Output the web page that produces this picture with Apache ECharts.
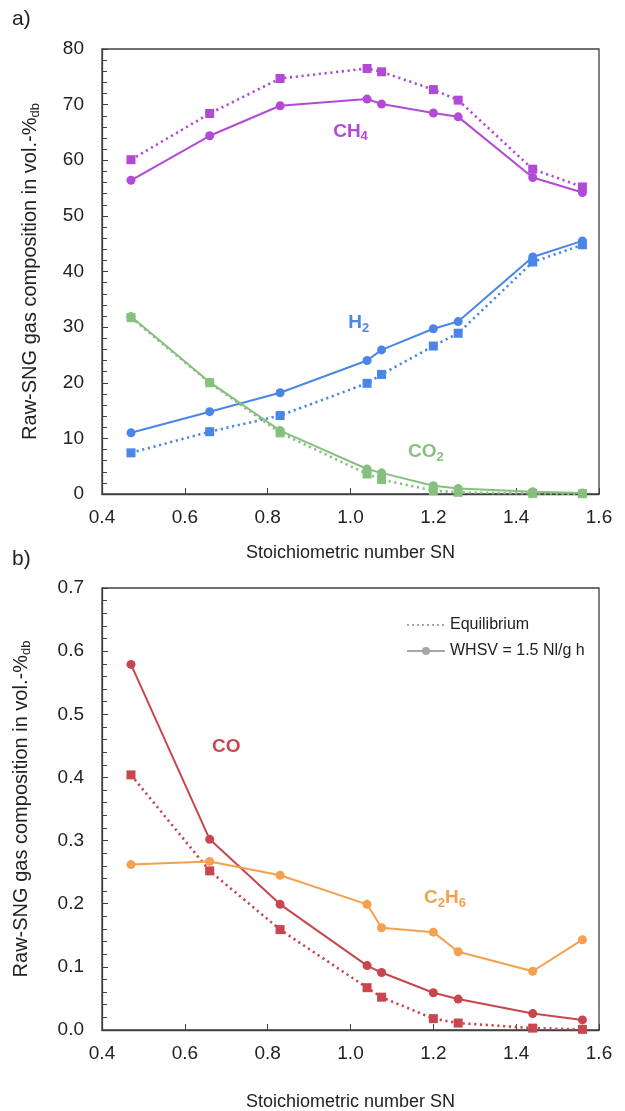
<!DOCTYPE html>
<html>
<head>
<meta charset="utf-8">
<script src="https://cdn.jsdelivr.net/npm/echarts@6/dist/echarts.min.js"></script>
<style>
html,body{margin:0;padding:0;background:#fff;}
#c{width:625px;height:1111px;}
</style>
</head>
<body>
<div id="c"></div>
<script>
// ---- data ----
const sn = [0.47, 0.66, 0.83, 1.04, 1.075, 1.2, 1.26, 1.44, 1.56];
const ch4Exp = [56.4, 64.4, 69.8, 71.0, 70.1, 68.5, 67.8, 56.9, 54.2];
const ch4Eq  = [60.1, 68.4, 74.7, 76.5, 75.9, 72.7, 70.8, 58.4, 55.2];
const h2Exp  = [11.0, 14.8, 18.2, 24.0, 25.9, 29.7, 31.0, 42.6, 45.5];
const h2Eq   = [7.4, 11.2, 14.1, 19.9, 21.5, 26.6, 28.9, 41.7, 44.8];
const co2Exp = [31.9, 20.1, 11.4, 4.5, 3.8, 1.5, 1.0, 0.4, 0.2];
const co2Eq  = [31.7, 20.0, 11.0, 3.6, 2.6, 0.6, 0.3, 0.1, 0.05];
const coExp  = [0.579, 0.302, 0.199, 0.102, 0.091, 0.059, 0.049, 0.026, 0.016];
const coEq   = [0.404, 0.252, 0.159, 0.067, 0.052, 0.018, 0.011, 0.003, 0.001];
const c2h6Exp = [0.262, 0.267, 0.245, 0.199, 0.162, 0.155, 0.124, 0.093, 0.143];
const xTitle = 'Stoichiometric number SN';
const legendNames = ['Equilibrium', 'WHSV = 1.5 Nl/g h'];
// annotation anchors in data coordinates: [gridIndex, x, y, main, sub, colour, main2, sub2]
const annotations = [
  [0, 1.0, 65.1, 'CH', '4', '#b34ad6'],
  [0, 1.02, 30.7, 'H', '2', '#4a86e8'],
  [0, 1.182, 7.55, 'CO', '2', '#86c07e'],
  [1, 0.70, 0.448, 'CO', '', '#c8464d'],
  [1, 1.228, 0.209, 'C', '2', '#f4a04e', 'H', '6']
];

const C = {ch4:'#b34ad6', h2:'#4a86e8', co2:'#86c07e', co:'#c8464d', c2h6:'#f4a04e', gray:'#a6a6a6'};
const FONT = 'Liberation Sans, Arial, sans-serif';
const AX = '#404040';

function pairs(ys){ return sn.map((x,i)=>[x, ys[i]]); }

function xAxisCfg(gi, gap){
  return {
    type:'value', gridIndex:gi, min:0.4, max:1.6, interval:0.2,
    axisLine:{show:true, onZero:false, lineStyle:{color:AX, width:1.3}},
    axisTick:{show:true, inside:true, length:6, lineStyle:{color:AX}},
    axisLabel:{color:'#222', fontSize:19, fontFamily:FONT, margin:14, formatter:v=>v.toFixed(1)},
    splitLine:{show:false},
    name:xTitle, nameLocation:'middle', nameGap:gap,
    nameTextStyle:{color:'#222', fontSize:18, fontFamily:FONT}
  };
}
function yAxisCfg(gi, min, max, interval, dec, gap){
  return {
    type:'value', gridIndex:gi, min:min, max:max, interval:interval,
    axisLine:{show:true, onZero:false, lineStyle:{color:AX, width:1.3}},
    axisTick:{show:true, inside:true, length:6, lineStyle:{color:AX}},
    minorTick:{show:true, splitNumber:5, length:5, lineStyle:{color:AX}},
    axisLabel:{color:'#222', fontSize:19, fontFamily:FONT, margin:18, formatter:v=>v.toFixed(dec)},
    splitLine:{show:false}, minorSplitLine:{show:false},
    name:'{a|Raw-SNG gas composition in vol.-%}{b|db}', nameLocation:'middle', nameGap:gap, nameRotate:90,
    nameTextStyle:{rich:{
      a:{color:'#222', fontSize:20, fontFamily:FONT, lineHeight:24},
      b:{color:'#222', fontSize:13, fontFamily:FONT, lineHeight:11, verticalAlign:'bottom'}
    }}
  };
}
function expSeries(name, ys, color, gi){
  return {type:'line', name:name, xAxisIndex:gi, yAxisIndex:gi, data:pairs(ys),
    symbol:'circle', symbolSize:9, color:color,
    lineStyle:{color:color, width:2}, itemStyle:{color:color}, z:3, animation:false};
}
function eqSeries(name, ys, color, gi){
  return {type:'line', name:name, xAxisIndex:gi, yAxisIndex:gi, data:pairs(ys),
    symbol:'rect', symbolSize:9, color:color,
    lineStyle:{color:color, width:2.6, type:[2.2,3.6], cap:'butt'}, itemStyle:{color:color}, z:2, animation:false};
}

const chart = echarts.init(document.getElementById('c'), null, {renderer:'canvas'});
const option = {
  backgroundColor:'#fff',
  animation:false,
  grid:[
    {left:102, top:49, width:497, height:445, show:true, borderColor:AX, borderWidth:1.3, backgroundColor:'transparent', outerBoundsMode:'none'},
    {left:102, top:588, width:497, height:442, show:true, borderColor:AX, borderWidth:1.3, backgroundColor:'transparent', outerBoundsMode:'none'}
  ],
  xAxis:[xAxisCfg(0, 50), xAxisCfg(1, 63)],
  yAxis:[yAxisCfg(0, 0, 80, 10, 0, 60), yAxisCfg(1, 0, 0.7, 0.1, 1, 69)],
  legend:{
    orient:'vertical', left:401, top:612, itemWidth:38, itemHeight:10, itemGap:10,
    data:[
      {name:legendNames[0], itemStyle:{opacity:0, borderWidth:0}},
      {name:legendNames[1]}
    ],
    textStyle:{color:'#222', fontSize:16, fontFamily:FONT},
    selectedMode:false
  },
  series:[
    eqSeries('CH4 eq', ch4Eq, C.ch4, 0), expSeries('CH4 exp', ch4Exp, C.ch4, 0),
    eqSeries('H2 eq', h2Eq, C.h2, 0), expSeries('H2 exp', h2Exp, C.h2, 0),
    eqSeries('CO2 eq', co2Eq, C.co2, 0), expSeries('CO2 exp', co2Exp, C.co2, 0),
    eqSeries('CO eq', coEq, C.co, 1), expSeries('CO exp', coExp, C.co, 1),
    expSeries('C2H6 exp', c2h6Exp, C.c2h6, 1),
    {type:'line', name:legendNames[0], xAxisIndex:1, yAxisIndex:1, data:[], symbol:'none', color:C.gray,
      lineStyle:{color:C.gray, width:2.4, type:[2,3]}},
    {type:'line', name:legendNames[1], xAxisIndex:1, yAxisIndex:1, data:[], symbol:'circle', symbolSize:9, color:C.gray,
      lineStyle:{color:C.gray, width:2}, itemStyle:{color:C.gray}}
  ]
};
chart.setOption(option);

// annotations and panel letters
const g = [];
annotations.forEach(a=>{
  const p = chart.convertToPixel({gridIndex:a[0]}, [a[1], a[2]]);
  let t = '{m|' + a[3] + '}' + (a[4] ? '{s|' + a[4] + '}' : '') + (a[6] ? '{m|' + a[6] + '}{s|' + a[7] + '}' : '');
  g.push({type:'text', x:p[0], y:p[1], z:10, style:{
    text:t, align:'center', verticalAlign:'middle',
    rich:{
      m:{fill:a[5], fontSize:19, fontWeight:'bold', fontFamily:FONT, lineHeight:23},
      s:{fill:a[5], fontSize:13, fontWeight:'bold', fontFamily:FONT, lineHeight:11, verticalAlign:'bottom'}
    }
  }});
});
g.push({type:'text', left:12, top:9, style:{text:'a)', fill:'#222', fontSize:21, fontFamily:FONT}});
g.push({type:'text', left:12, top:549, style:{text:'b)', fill:'#222', fontSize:21, fontFamily:FONT}});
chart.setOption({graphic:g});
</script>
</body>
</html>
